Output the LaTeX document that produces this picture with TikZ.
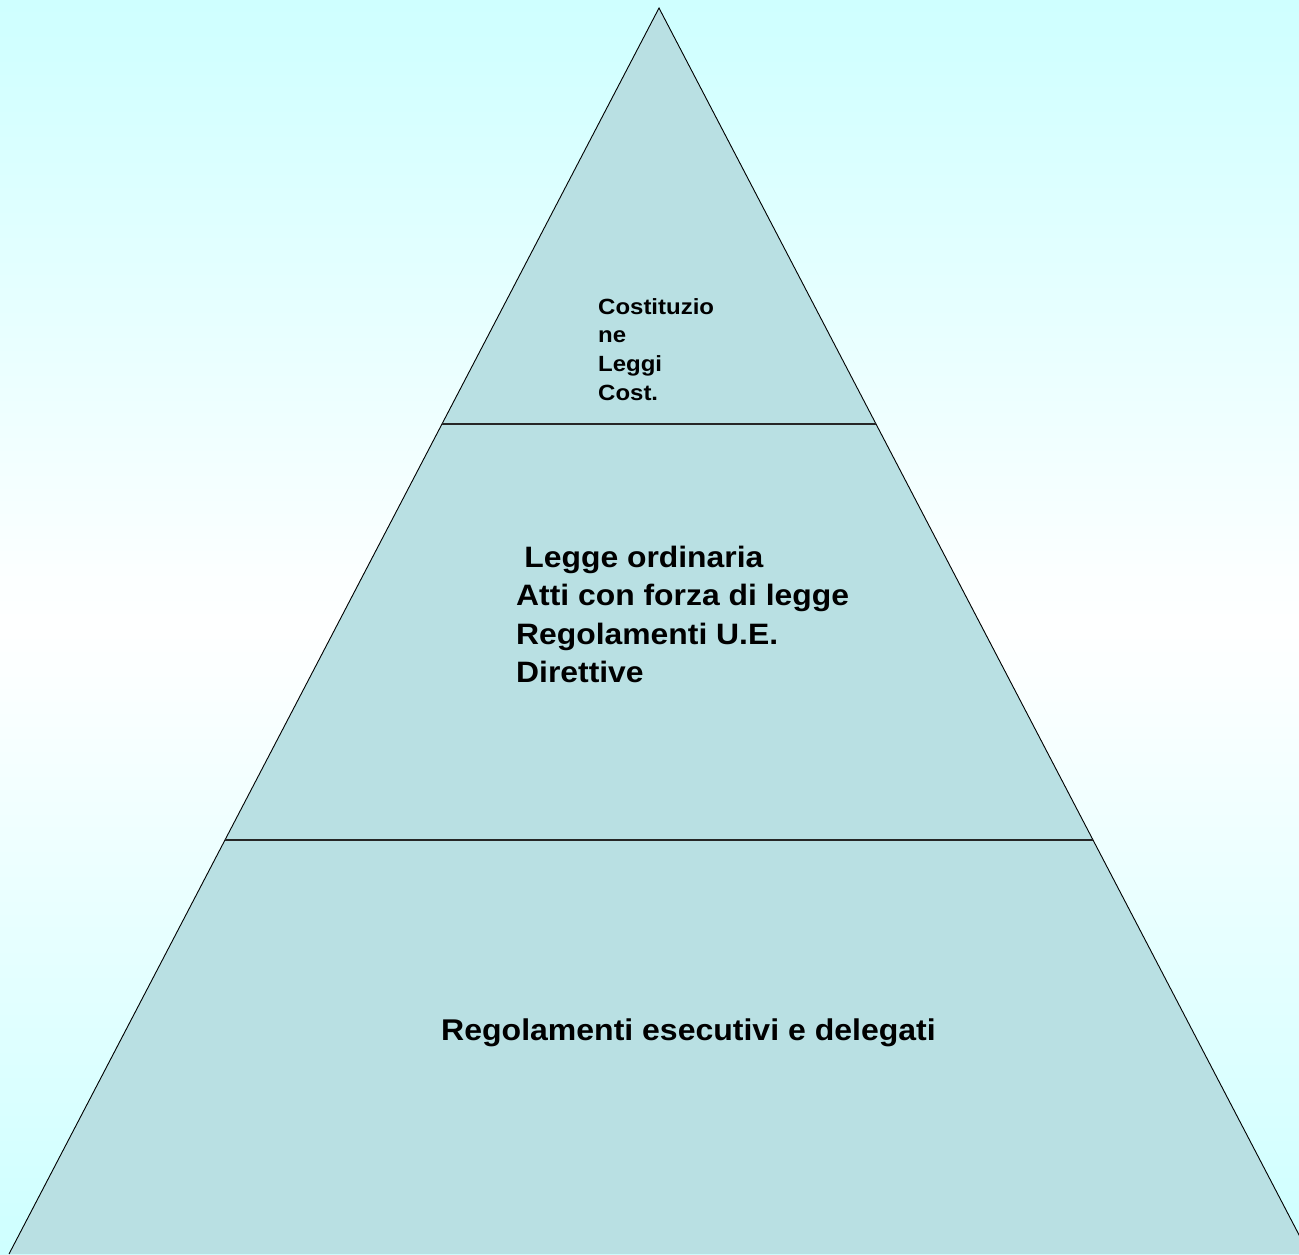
\documentclass[tikz,border=0pt]{standalone}
\usepackage{fontspec}
\setmainfont{Liberation Sans}
\newfontfamily\widesmall[FakeStretch=1.09]{Liberation Sans}
\newfontfamily\widemid[FakeStretch=1.08]{Liberation Sans}
\newfontfamily\widebot[FakeStretch=1.067]{Liberation Sans}
\definecolor{bgcyan}{RGB}{206,255,255}
\definecolor{pyrfill}{RGB}{185,224,227}
\tikzset{
  edge/.style={draw=black, line width=0.9pt},
  divider/.style={draw=black!85, line width=1.4pt},
  smalltxt/.style={font=\widesmall\bfseries\fontsize{22}{28.7}\selectfont, align=left, inner sep=0pt, anchor=north west},
  midtxt/.style={font=\widemid\bfseries\fontsize{29.5}{38.3}\selectfont, align=left, inner sep=0pt, anchor=north west},
  bottxt/.style={font=\widebot\bfseries\fontsize{30}{36}\selectfont, inner sep=0pt, anchor=base}
}
\begin{document}
\begin{tikzpicture}[x=1pt,y=-1pt]
\useasboundingbox (0,0) rectangle (1299,1254);
\clip (0,0) rectangle (1299,1254);
\foreach \i in {0,...,99} {
  \pgfmathsetmacro{\t}{abs(\i+0.5-50)/50*100}
  \fill[bgcyan!\t!white] (0,{\i*12.54-0.5}) rectangle (1299,{(\i+1)*12.54+0.5});
}
\coordinate (apex) at (659,8);
\coordinate (bl) at (9,1254);
\coordinate (br) at (1309,1254);
\fill[pyrfill] (apex) -- (bl) -- (br) -- cycle;
\draw[edge] (bl) -- (apex) -- (br);
\coordinate (d1l) at (442,424);
\coordinate (d1r) at (876,424);
\coordinate (d2l) at (225,840);
\coordinate (d2r) at (1093,840);
\draw[divider] (d1l) -- (d1r);
\draw[divider] (d2l) -- (d2r);
\node[smalltxt] (top) at (598,298) {Costituzio\\ne\\Leggi\\Cost.};
\node[midtxt] (mid) at (516,546) {\hspace*{0.278em}Legge ordinaria\\Atti con forza di legge\\Regolamenti U.E.\\Direttive};
\node[bottxt] (bot) at (688.5,1040) {Regolamenti esecutivi e delegati};
\end{tikzpicture}
\end{document}
